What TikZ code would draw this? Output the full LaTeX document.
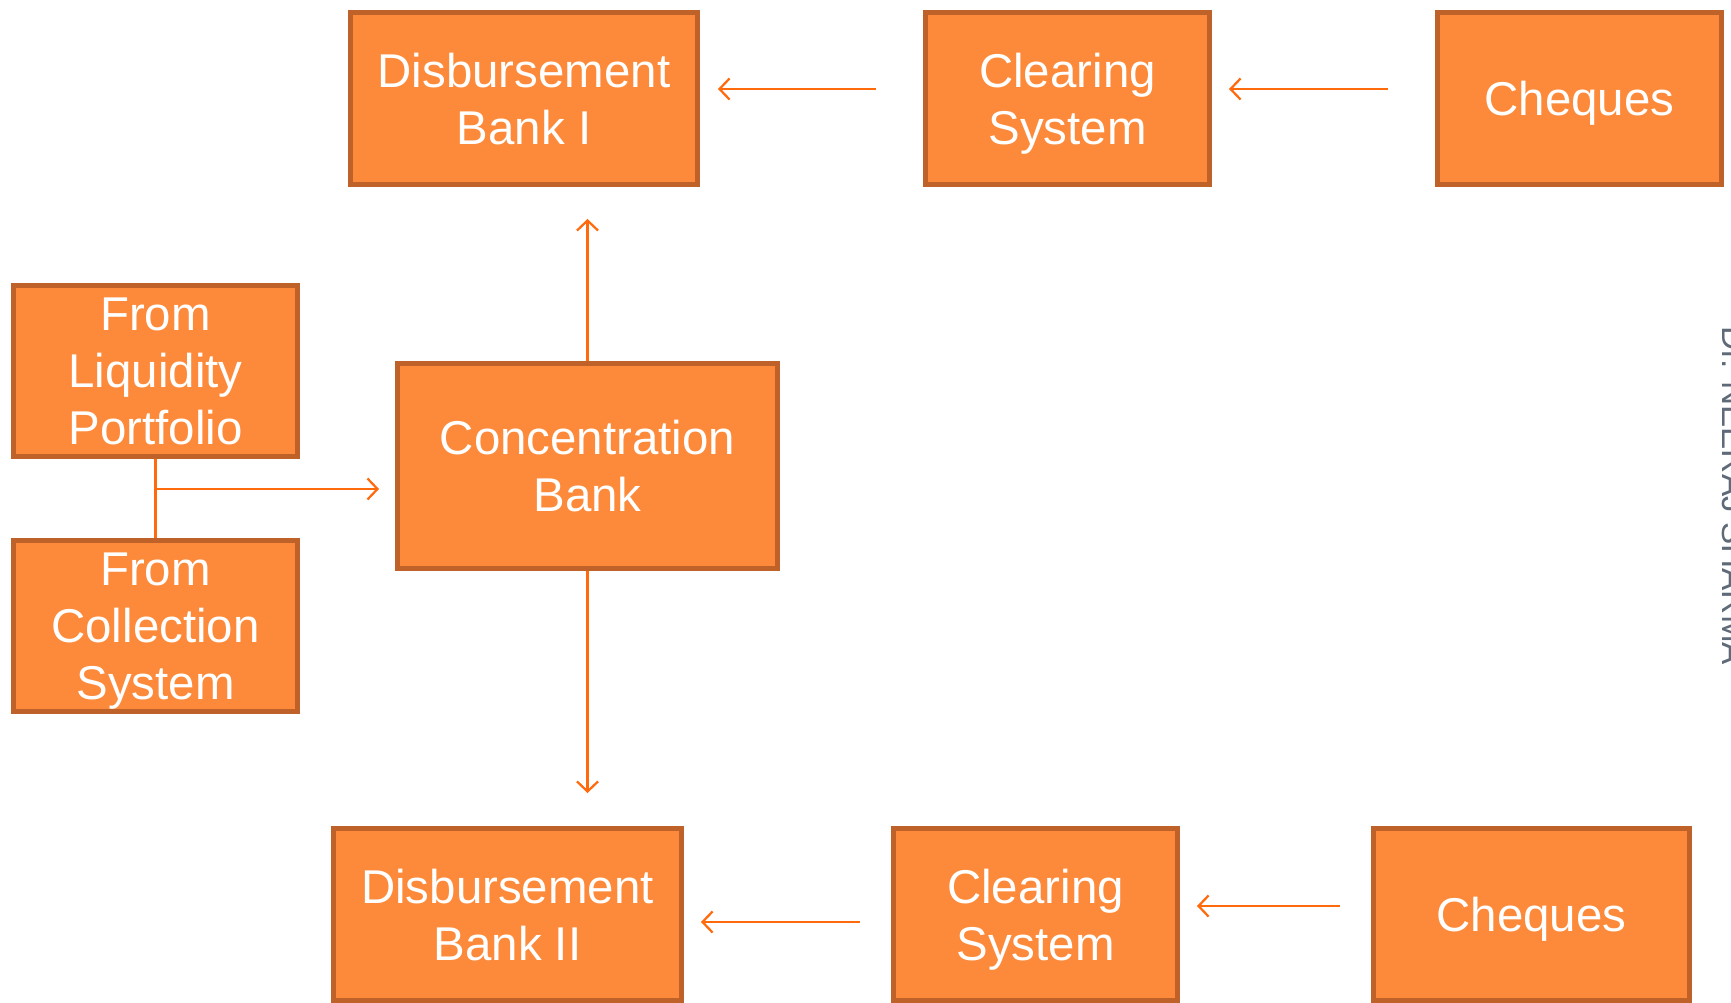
\documentclass[tikz,border=0pt]{standalone}
\usepackage{fontspec}
\setmainfont{Liberation Sans}
\usetikzlibrary{positioning,arrows.meta}
\definecolor{boxfill}{HTML}{FD8A3A}
\definecolor{boxline}{HTML}{BF6229}
\definecolor{flowline}{HTML}{FF6A0D}
\definecolor{stamp}{HTML}{5E6A78}

\begin{document}
\begin{tikzpicture}[x=0.02cm, y=-0.02cm]
        \tikzstyle{box}=[draw=boxline, fill=boxfill, line width=0.09cm, text=white, align=center, inner sep=0, text depth=0pt, minimum height=3.45cm, font=\fontsize{27}{32.5}\selectfont]
        \tikzstyle{flow}=[draw=flowline, line width=0.045cm, -{Straight Barb[length=0.2cm, width=0.42cm]}]

        \useasboundingbox (0,0) rectangle (1731,1003);

        % top row
        \node   (db1)  [box, minimum width=6.95cm] at (524,98.5)   {Disbursement\\Bank I};
        \node   (cs1)  [box, minimum width=5.69cm] at (1067.5,98.5) {Clearing\\System};
        \node   (ch1)  [box, minimum width=5.69cm] at (1579.5,98.5) {Cheques};

        % middle
        \node   (liq)  [box, minimum width=5.69cm, minimum height=3.43cm] at (155.5,371) {From\\Liquidity\\Portfolio};
        \node   (col)  [box, minimum width=5.69cm, minimum height=3.43cm] at (155.5,626) {From\\Collection\\System};
        \node   (cb)   [box, minimum width=7.61cm, minimum height=4.11cm] at (587.5,466) {Concentration\\Bank};

        % bottom row
        \node   (db2)  [box, minimum width=6.97cm] at (507.5,914.5)  {Disbursement\\Bank II};
        \node   (cs2)  [box, minimum width=5.69cm] at (1035.5,914.5) {Clearing\\System};
        \node   (ch2)  [box, minimum width=6.33cm] at (1531.5,914.5) {Cheques};

        \node   (name) [rotate=-90, anchor=base west, inner sep=0, text=stamp, font=\fontsize{19}{23}\selectfont] at (1722,326) {Dr. NEERAJ SHARMA};

        \coordinate (join) at (155.5,489);

        \draw[flow, shorten <=0.94cm, shorten >=0.36cm] ([yshift=0.19cm]cs1.west) -- ([yshift=0.19cm]db1.east);
        \draw[flow, shorten <=0.94cm, shorten >=0.34cm] ([yshift=0.19cm]ch1.west) -- ([yshift=0.19cm]cs1.east);
        \draw[flow, shorten >=0.64cm] (cb.north) -- (cb.north |- db1.south);
        \draw[flow, shorten >=0.66cm] (cb.south) -- (cb.south |- db2.north);
        \draw[draw=flowline, line width=0.045cm] (liq.south) -- (col.north);
        \draw[flow, shorten >=0.32cm] (join) -- (join -| cb.west);
        \draw[flow, shorten <=0.62cm, shorten >=0.34cm] ([yshift=-0.15cm]cs2.west) -- ([yshift=-0.15cm]db2.east);
        \draw[flow, shorten <=0.62cm, shorten >=0.34cm] ([yshift=0.17cm]ch2.west) -- ([yshift=0.17cm]cs2.east);

    \end{tikzpicture}
\end{document}
